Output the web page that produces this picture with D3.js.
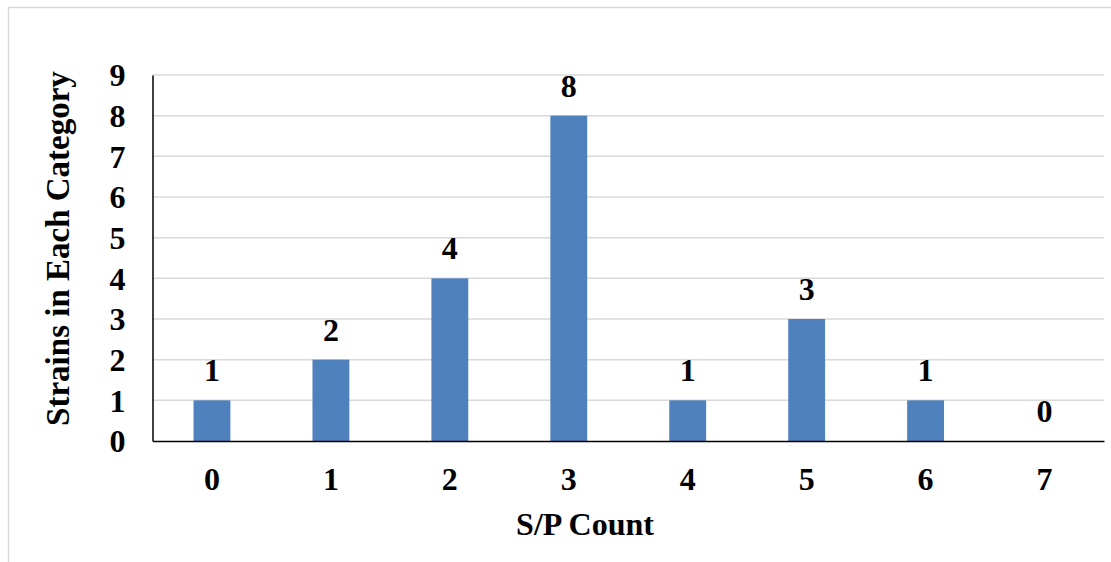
<!DOCTYPE html>
<html>
<head>
<meta charset="utf-8">
<script src="https://cdn.jsdelivr.net/npm/d3@7"></script>
<style>
  html, body { margin: 0; padding: 0; background: #fff; }
  svg { display: block; }
</style>
</head>
<body>
<script>
const categories = ["0", "1", "2", "3", "4", "5", "6", "7"];
const values = [1, 2, 4, 8, 1, 3, 1, 0];
const yTicks = [0, 1, 2, 3, 4, 5, 6, 7, 8, 9];
const xTitle = "S/P Count";
const yTitle = "Strains in Each Category";

const FONT = "'Liberation Serif', 'Times New Roman', Times, serif";
const W = 1111, H = 562;
const svg = d3.select("body").append("svg").attr("width", W).attr("height", H)
  .style("font-family", FONT).style("font-weight", "bold");

// chart border
svg.append("rect").attr("x", 8.5).attr("y", 7.5).attr("width", W + 10).attr("height", H + 10)
  .attr("fill", "#fff").attr("stroke", "#d9d9d9").attr("stroke-width", 1.5);

const pLeft = 152.5, pRight = 1104, pTop = 75, pBottom = 441;

const x = d3.scaleBand().domain(categories).range([pLeft, pRight]).paddingInner(0.69).paddingOuter(0.345);
const y = d3.scaleLinear().domain([0, 9]).range([pBottom, pTop]);

// gridlines
svg.append("g").selectAll("line").data(yTicks.filter(d => d > 0)).join("line")
  .attr("x1", pLeft).attr("x2", pRight)
  .attr("y1", d => y(d)).attr("y2", d => y(d))
  .attr("stroke", "#d9d9d9").attr("stroke-width", 1.5);

// bars
svg.append("g").selectAll("rect").data(values).join("rect")
  .attr("x", (d, i) => x(categories[i]))
  .attr("width", x.bandwidth())
  .attr("y", d => y(d))
  .attr("height", d => pBottom - y(d))
  .attr("fill", "#4f81bd");

// value labels
svg.append("g").selectAll("text").data(values).join("text")
  .attr("x", (d, i) => x(categories[i]) + x.bandwidth() / 2)
  .attr("y", d => y(d) - 19)
  .attr("text-anchor", "middle")
  .style("font-family", FONT).style("font-weight", "bold").style("font-size", "32px")
  .attr("fill", "#000")
  .text(d => d);

// y axis
const yAxis = d3.axisLeft(y).tickValues(yTicks).tickSize(0).tickPadding(27).tickFormat(d3.format("d"));
const gy = svg.append("g").attr("transform", `translate(${pLeft},0)`).call(yAxis);
gy.select(".domain").attr("stroke", "#000").attr("stroke-width", 1.5);
gy.selectAll("text").style("font-family", FONT).style("font-weight", "bold").style("font-size", "32px")
  .attr("fill", "#000").attr("dy", "0.34em");

// x axis
const xAxis = d3.axisBottom(x).tickSize(0).tickPadding(26);
const gx = svg.append("g").attr("transform", `translate(0,${pBottom})`).call(xAxis);
gx.select(".domain").attr("stroke", "#000").attr("stroke-width", 1.5);
gx.selectAll("text").style("font-family", FONT).style("font-weight", "bold").style("font-size", "32px")
  .attr("fill", "#000");

// titles
svg.append("text").attr("x", 585).attr("y", 535)
  .attr("text-anchor", "middle")
  .style("font-family", FONT).style("font-weight", "bold").style("font-size", "32px")
  .text(xTitle);
svg.append("text").attr("transform", `translate(69,248.5) rotate(-90)`)
  .attr("text-anchor", "middle")
  .style("font-family", FONT).style("font-weight", "bold").style("font-size", "33px")
  .text(yTitle);
</script>
</body>
</html>
